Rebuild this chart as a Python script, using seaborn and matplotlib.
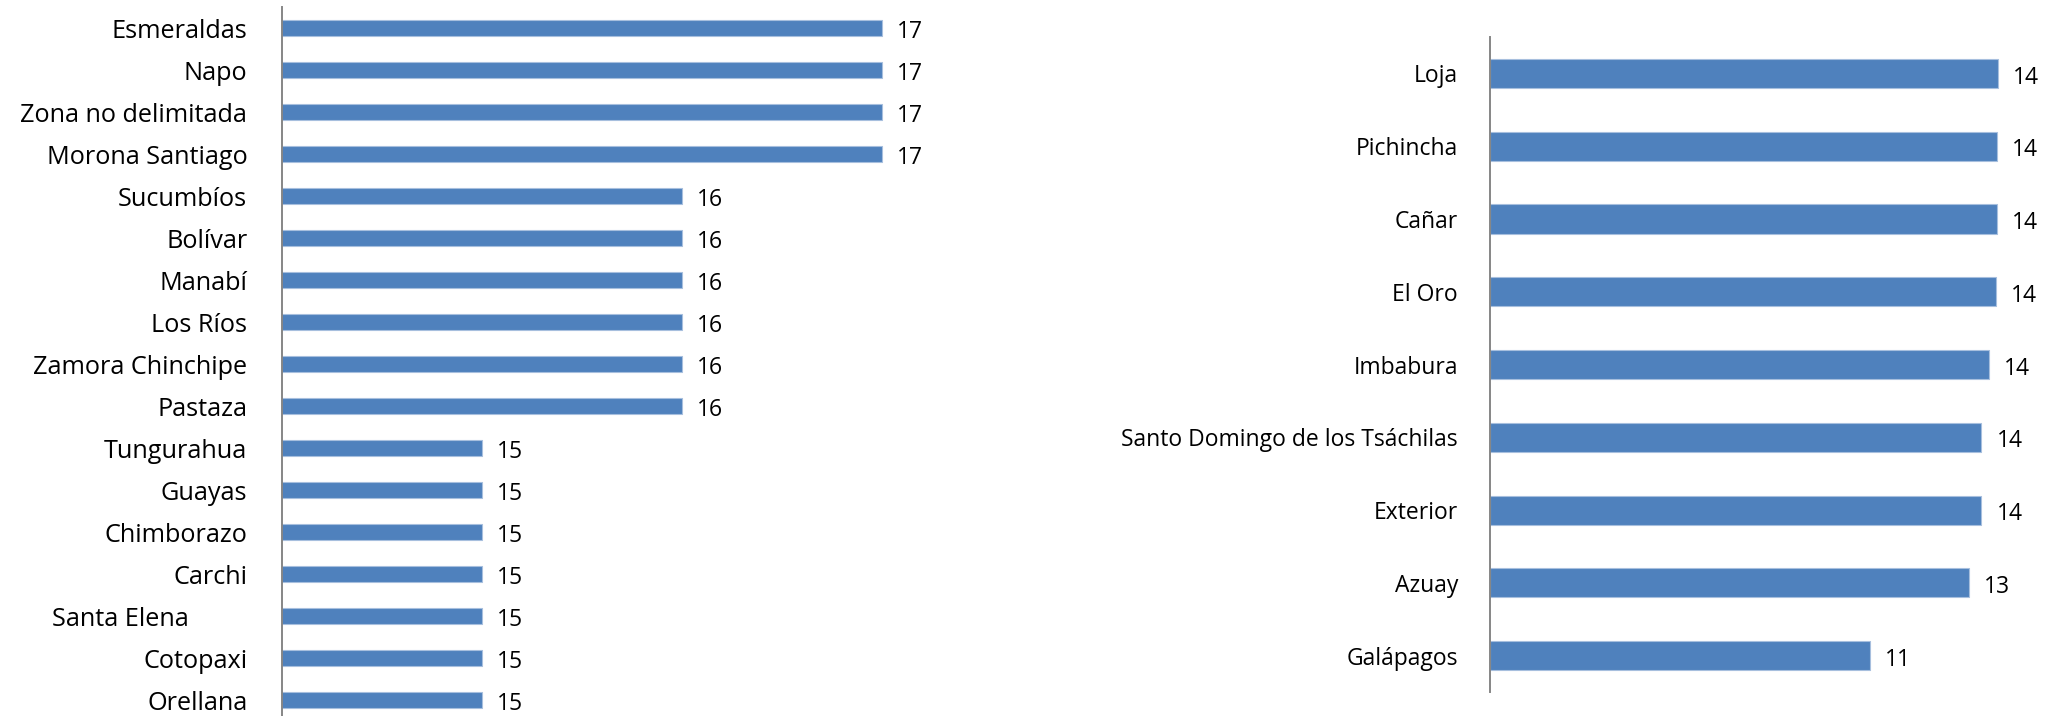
import matplotlib.pyplot as plt
import seaborn as sns
import pandas as pd

# data
left_names = ["Esmeraldas", "Napo", "Zona no delimitada", "Morona Santiago",
              "Sucumbíos", "Bolívar", "Manabí", "Los Ríos", "Zamora Chinchipe",
              "Pastaza", "Tungurahua", "Guayas", "Chimborazo", "Carchi",
              "Santa Elena         ", "Cotopaxi", "Orellana"]
left_values = [17, 17, 17, 17, 16, 16, 16, 16, 16, 16, 15, 15, 15, 15, 15, 15, 15]

right_names = ["Loja", "Pichincha", "Cañar", "El Oro", "Imbabura",
               "Santo Domingo de los Tsáchilas", "Exterior", "Azuay", "Galápagos"]
right_values = [14.19, 14.16, 14.16, 14.13, 13.94, 13.72, 13.72, 13.38, 10.61]

BAR = "#4F81BD"
EDGE = "#A7BFDE"
AXIS = "#868686"
FS = 16.5

sns.set_style("white")
plt.rcParams["font.family"] = ["Open Sans", "DejaVu Sans"]

W, H = 2045, 716
fig = plt.figure(figsize=(W / 100, H / 100), dpi=100)


def px_axes(x0, top, w, h):
    return fig.add_axes([x0 / W, (H - top - h) / H, w / W, h / H])


def draw(ax, names, values, xmin, xmax, width, pad, labelsize):
    df = pd.DataFrame({"name": names, "value": values})
    sns.barplot(data=df, x="value", y="name", orient="h", color=BAR,
                saturation=1, width=width, edgecolor=EDGE, linewidth=0.8,
                errorbar=None, ax=ax)
    ax.set_xlim(xmin, xmax)
    ax.set_xticks([])
    ax.set_xlabel("")
    ax.set_ylabel("")
    ax.tick_params(axis="y", length=0, pad=pad, labelsize=labelsize, labelcolor="black")
    for s in ["top", "right", "bottom"]:
        ax.spines[s].set_visible(False)
    ax.spines["left"].set_color(AXIS)
    ax.spines["left"].set_linewidth(1.4)
    ax.patch.set_alpha(0)
    for i, v in enumerate(values):
        ax.annotate(f"{v:.0f}", (v, i), xytext=(11, -3), textcoords="offset points",
                    ha="left", va="center", fontsize=FS, color="black")


ax1 = px_axes(282, 7, 800, 714)
draw(ax1, left_names, left_values, 14, 18, 0.38, 25, 18.2)

ax2 = px_axes(1490, 37, 537, 655)
draw(ax2, right_names, right_values, 0, 15, 0.4, 23, 16.5)

fig.savefig("out.png", dpi=100, facecolor="white")
